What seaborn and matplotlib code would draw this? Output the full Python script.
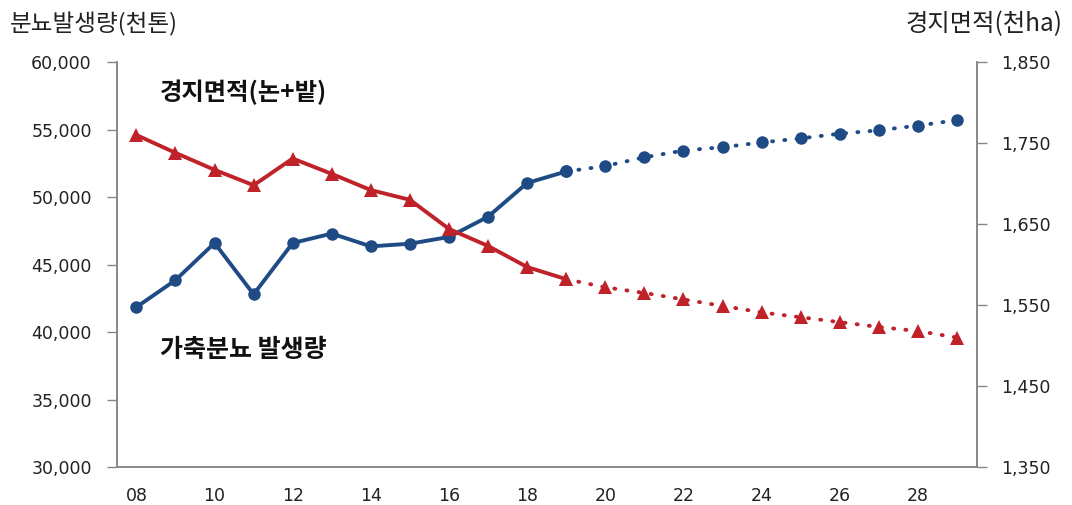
import matplotlib
matplotlib.use("Agg")
import matplotlib.pyplot as plt
import seaborn as sns
import pandas as pd
import numpy as np

years = ["08","09","10","11","12","13","14","15","16","17","18","19",
         "20","21","22","23","24","25","26","27","28","29"]
manure = [41850, 43850, 46600, 42800, 46600, 47300, 46350, 46550, 47050, 48550, 51050, 51900,
          52300, 52950, 53450, 53700, 54050, 54350, 54700, 54950, 55300, 55700]
farmland = [1760, 1738, 1717, 1698, 1731, 1712, 1692, 1680, 1644, 1623, 1597, 1582,
            1572, 1565, 1557, 1549, 1541, 1535, 1529, 1523, 1518, 1510]
last_actual = "19"
left_ticks = [30000, 35000, 40000, 45000, 50000, 55000, 60000]
right_ticks = [1350, 1450, 1550, 1650, 1750, 1850]
left_title = "분뇨발생량(천톤)"
right_title = "경지면적(천ha)"
label_farm = "경지면적(논+밭)"
label_manure = "가축분뇨 발생량"

sns.set_style("white")
plt.rcParams['font.family'] = ['DejaVu Sans', 'Noto Sans CJK KR']
kfont = ['Noto Sans CJK KR', 'DejaVu Sans']

blue = "#1f4b85"
red = "#bf2228"

idx = list(range(len(years)))
k = years.index(last_actual)
df = pd.DataFrame({"x": idx, "manure": manure, "farm": farmland})
act = df.iloc[:k+1]
fc = df.iloc[k:]

fig = plt.figure(figsize=(10.72, 5.05), dpi=100)
ax = fig.add_axes([0.109, 0.075, 0.802, 0.802])
ax2 = ax.twinx()

lw = 2.8
dots = (0, (0.25, 2.9))
sns.lineplot(data=act, x="x", y="manure", ax=ax, color=blue, lw=lw, marker="o",
             markersize=9, markeredgewidth=0)
sns.lineplot(data=fc, x="x", y="manure", ax=ax, color=blue, lw=lw, marker="o",
             markersize=9, markeredgewidth=0, linestyle=dots,
             dash_capstyle="round")
sns.lineplot(data=act, x="x", y="farm", ax=ax2, color=red, lw=lw, marker="^",
             markersize=10, markeredgewidth=0)
sns.lineplot(data=fc, x="x", y="farm", ax=ax2, color=red, lw=lw, marker="^",
             markersize=10, markeredgewidth=0, linestyle=dots,
             dash_capstyle="round")

ax.set_xlim(-0.5, len(years) - 0.5)
ax.set_ylim(left_ticks[0], left_ticks[-1])
ax2.set_ylim(right_ticks[0], right_ticks[-1])

ax.set_yticks(left_ticks)
ax.set_yticklabels([f"{v:,}" for v in left_ticks])
ax2.set_yticks(right_ticks)
ax2.set_yticklabels([f"{v:,}" for v in right_ticks])

ax.set_xticks(np.arange(-0.5, len(years), 1.0))
ax.set_xticklabels([])
ax.set_xticks(idx[::2], minor=True)
ax.set_xticklabels(years[::2], minor=True)
ax.tick_params(axis="x", which="major", direction="out", length=7, color="#888888", width=1)
ax.tick_params(axis="x", which="minor", length=0, pad=14, labelsize=12.5, labelcolor="#222222")
ax.tick_params(axis="y", direction="out", length=7, color="#888888", width=1, labelsize=12.5,
               pad=11, labelcolor="#222222")
ax2.tick_params(axis="y", direction="out", length=7, color="#888888", width=1, labelsize=12.5,
                pad=11, labelcolor="#222222")

for a in (ax, ax2):
    a.set_xlabel("")
    a.set_ylabel("")
    a.spines["top"].set_visible(False)
    for s in ("left", "right", "bottom"):
        a.spines[s].set_color("#888888")
        a.spines[s].set_linewidth(1.2)

fig.text(0.009, 0.952, left_title, fontsize=17, ha="left", va="center", color="#222222",
         family=kfont)
fig.text(0.991, 0.952, right_title, fontsize=17.5, ha="right", va="center", color="#222222",
         family=kfont)
ax.text(0.05, 0.925, label_farm, transform=ax.transAxes, fontsize=17.5, fontweight="bold",
        ha="left", va="center", color="#111111", family=kfont)
ax.text(0.05, 0.29, label_manure, transform=ax.transAxes, fontsize=18, fontweight="bold",
        ha="left", va="center", color="#111111", family=kfont)

fig.savefig("out.png", dpi=100)
